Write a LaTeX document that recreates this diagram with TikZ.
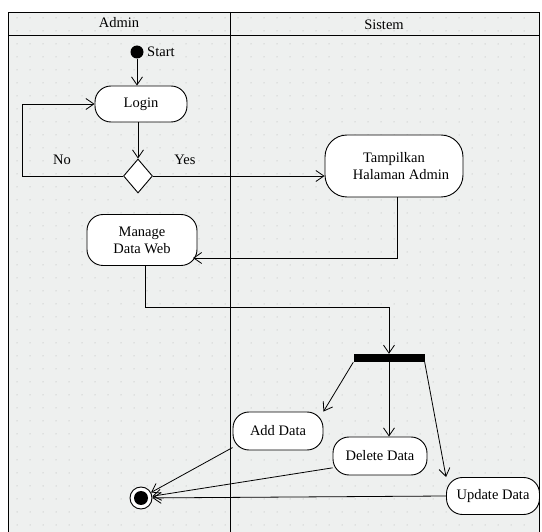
\documentclass[tikz,border=0pt]{standalone}
\usepackage{fontspec}
\setmainfont{Liberation Serif}
\usetikzlibrary{arrows.meta,shapes.geometric,positioning}
\definecolor{lanebg}{RGB}{238,240,239}
\definecolor{griddot}{RGB}{170,174,174}

\begin{document}
\begin{tikzpicture}[x=1pt,y=-1pt,font=\fontsize{14.5}{17}\selectfont,
  act/.style={draw,line width=0.9pt,rounded corners=16pt,fill=white,align=center,inner sep=2pt},
  flow/.style={-{Straight Barb[length=8pt,width=11pt]},line width=0.8pt},
  lane/.style={draw,line width=0.9pt}]
  \useasboundingbox (0,0) rectangle (542,532);
  % swimlane background with dot grid
  \fill[lanebg] (8,12) rectangle (539,532);
  \foreach \x in {17,30,...,535}
    \foreach \y in {18,31,...,530}
      \fill[griddot] (\x,\y) circle (0.5pt);
  \draw[lane] (8,540) -- (8,12) -- (539,12) -- (539,540);
  \draw[lane] (8,35) -- (539,35);
  \draw[lane] (230,12) -- (230,540);
  \node (admin) at (119,23) {Admin};
  \node (sistem) at (384,25) {Sistem};

  % actions
  \node[circle,fill=black,minimum size=13pt,inner sep=0pt] (start) at (137,52) {};
  \node[right=0pt of start] (startlbl) {Start};
  \node[act,minimum width=92pt,minimum height=36pt] (login) at (141,104) {Login};
  \node[diamond,draw,line width=0.9pt,fill=white,minimum width=29pt,minimum height=34pt,inner sep=0pt] (dec) at (138,176) {};
  \node (no) at (62,160) {No};
  \node (yes) at (185,160) {Yes};
  \node[act,rounded corners=22pt,minimum width=138pt,minimum height=62pt] (tampil) at (394,166) {Tampilkan\\ \hspace{14pt}Halaman Admin};
  \node[act,minimum width=110pt,minimum height=51pt] (manage) at (142,240) {Manage\\Data Web};
  \node[fill=black,minimum width=71pt,minimum height=8pt,inner sep=0pt] (fork) at (389,358) {};
  \node[act,minimum width=90pt,minimum height=38pt] (add) at (278,431) {Add Data};
  \node[act,minimum width=94pt,minimum height=38pt] (delete) at (380,456) {Delete Data};
  \node[act,minimum width=93pt,minimum height=37pt] (update) at (493,496) {Update Data};
  \node[circle,draw,line width=0.9pt,fill=white,minimum size=22pt,inner sep=0pt] (final) at (141,498) {};
  \fill[black] (final) circle (7pt);

  \coordinate (noturn) at (22,176);
  \coordinate (manin) at (193,258);
  \coordinate (tofork) at (389,307);

  % flows
  \draw[flow] (start) -- (start |- login.north);
  \draw[flow] (dec |- login.south) -- (dec.north);
  \draw[flow] (dec.west) -- (noturn) |- (login.west);
  \draw[flow] (dec.east) -- (dec.east -| tampil.west);
  \draw[flow] ([xshift=3pt]tampil.south) |- (manin);
  \draw[flow] ([xshift=3pt]manage.south) |- (tofork) -- (fork.north);
  \draw[flow] (fork.south west) -- (add.north east);
  \draw[flow] (fork.south) -- (fork.south |- delete.north);
  \draw[flow] (fork.south east) -- (update.north west);
  \draw[flow] (add.200) -- (final);
  \draw[flow] (delete.194) -- (final);
  \draw[flow] (update.west) -- (final);
\end{tikzpicture}
\end{document}
